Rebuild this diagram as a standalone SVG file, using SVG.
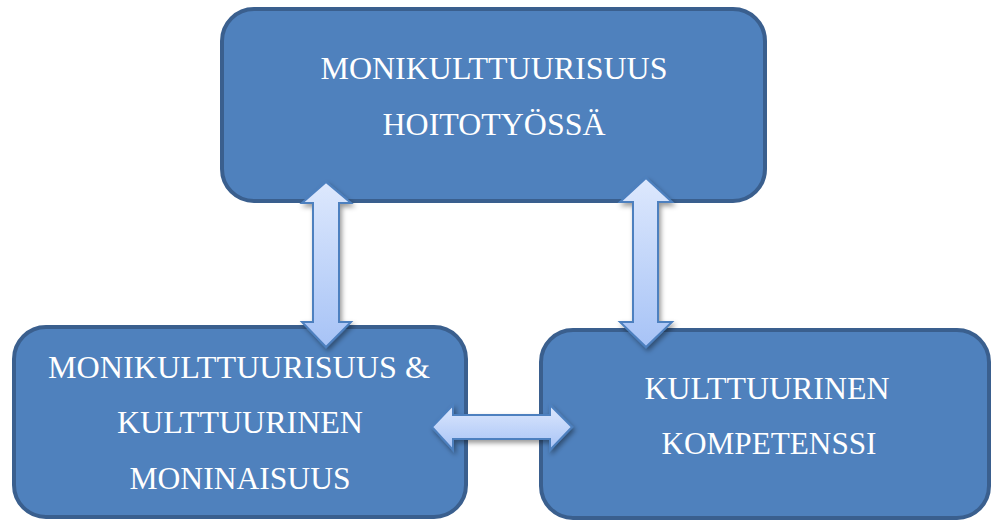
<svg xmlns="http://www.w3.org/2000/svg" width="992" height="521" viewBox="0 0 992 521">
  <defs>
    <linearGradient id="ag" x1="0" y1="0" x2="0" y2="1">
      <stop offset="0" stop-color="#dde8fd"/>
      <stop offset="1" stop-color="#a7c3f6"/>
    </linearGradient>
    <filter id="sh" x="-30%" y="-30%" width="160%" height="160%">
      <feDropShadow dx="2" dy="3" stdDeviation="2.5" flood-color="#000" flood-opacity="0.4"/>
    </filter>
  </defs>
  <style>
    .box { fill: #4f81bd; stroke: #3a5f8e; stroke-width: 4; }
    .lbl { fill: #ffffff; font-family: "Liberation Serif", "Times New Roman", serif; font-size: 31px; text-anchor: middle; }
    .arr { fill: url(#ag); stroke: #4d80bf; stroke-width: 2; stroke-linejoin: miter; filter: url(#sh); }
  </style>
  <rect width="992" height="521" fill="#ffffff"/>
  <g id="node-top">
    <rect class="box" x="222" y="9" width="543" height="192" rx="32" ry="32"/>
    <text class="lbl" x="494" y="79" textLength="347" lengthAdjust="spacingAndGlyphs">MONIKULTTUURISUUS</text>
    <text class="lbl" x="494" y="135" textLength="223" lengthAdjust="spacingAndGlyphs">HOITOTYÖSSÄ</text>
  </g>
  <g id="node-left">
    <rect class="box" x="14" y="327" width="452" height="190" rx="32" ry="32"/>
    <text class="lbl" x="239" y="378" textLength="382" lengthAdjust="spacingAndGlyphs">MONIKULTTUURISUUS &amp;</text>
    <text class="lbl" x="240" y="433" textLength="246" lengthAdjust="spacingAndGlyphs">KULTTUURINEN</text>
    <text class="lbl" x="240" y="489" textLength="221" lengthAdjust="spacingAndGlyphs">MONINAISUUS</text>
  </g>
  <g id="node-right">
    <rect class="box" x="541" y="330" width="448" height="188" rx="32" ry="32"/>
    <text class="lbl" x="767" y="399" textLength="245" lengthAdjust="spacingAndGlyphs">KULTTUURINEN</text>
    <text class="lbl" x="769" y="454" textLength="215" lengthAdjust="spacingAndGlyphs">KOMPETENSSI</text>
  </g>
  <g id="connectors">
    <polygon class="arr" points="326,182 351,203 339,203 339,322 351,322 326,347 302,322 313,322 313,203 302,203"/>
    <polygon class="arr" points="646,178 672,202 658,202 658,322 672,322 646,347 620,322 633,322 633,202 620,202"/>
    <polygon class="arr" points="432,427 453,405 453,415 550,415 550,405 572,427 550,450 550,439 453,439 453,450"/>
  </g>
</svg>
